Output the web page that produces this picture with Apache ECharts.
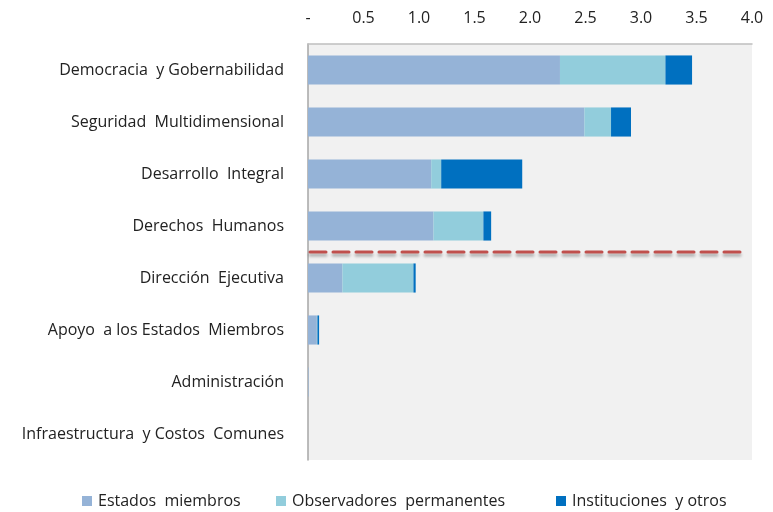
<!DOCTYPE html>
<html>
<head>
<meta charset="utf-8">
<script src="https://cdn.jsdelivr.net/npm/echarts@6/dist/echarts.min.js"></script>
<style>
  html, body { margin: 0; padding: 0; background: #fff; }
  #chart { width: 773px; height: 512px; }
</style>
</head>
<body>
<div id="chart"></div>
<script>
const categories = [
  'Democracia  y Gobernabilidad',
  'Seguridad  Multidimensional',
  'Desarrollo  Integral',
  'Derechos  Humanos',
  'Dirección  Ejecutiva',
  'Apoyo  a los Estados  Miembros',
  'Administración',
  'Infraestructura  y Costos  Comunes'
]
const seriesNames = ['Estados  miembros', 'Observadores  permanentes', 'Instituciones  y otros']
const estados = [2.27, 2.49, 1.11, 1.13, 0.31, 0.08, 0.005, 0]
const observadores = [0.95, 0.24, 0.09, 0.45, 0.64, 0.005, 0, 0]
const instituciones = [0.24, 0.18, 0.73, 0.07, 0.02, 0.015, 0, 0]
const xTicks = ['-', '0.5', '1.0', '1.5', '2.0', '2.5', '3.0', '3.5', '4.0']
// dashed separator sits between these two rows, running out to this x value
const splitAfter = 'Derechos  Humanos'
const splitBefore = 'Dirección  Ejecutiva'
const splitEnd = 3.9

const font = '"Open Sans", Lato, sans-serif'
const chart = echarts.init(document.getElementById('chart'))

function barSeries (name, data, color) {
  return {
    name,
    type: 'bar',
    stack: 'total',
    barWidth: '56%',
    data,
    itemStyle: { color },
    animation: false
  }
}

// one legend per entry so each can sit where the original has it
const legendLeft = [77, 271, 551]
const legends = seriesNames.map((name, i) => ({
  top: 488,
  left: legendLeft[i],
  itemWidth: 10,
  itemHeight: 10,
  itemGap: 6,
  icon: 'rect',
  textStyle: { fontSize: 16, color: '#222', fontFamily: font, padding: [0, 0, 0, 1] },
  data: [name]
}))

chart.setOption({
  textStyle: { fontFamily: font },
  grid: {
    left: 308,
    right: 21,
    top: 44,
    bottom: 52,
    show: true,
    backgroundColor: '#F1F1F1',
    borderWidth: 0
  },
  legend: legends,
  xAxis: {
    type: 'value',
    position: 'top',
    min: 0,
    max: 4,
    interval: 0.5,
    axisLine: { show: true, lineStyle: { color: '#BFBFBF', width: 1.5 } },
    axisTick: { show: false },
    splitLine: { show: false },
    axisLabel: {
      margin: 18,
      fontSize: 16,
      color: '#222',
      formatter: (v) => xTicks[Math.round(v / 0.5)]
    }
  },
  yAxis: {
    type: 'category',
    inverse: true,
    data: categories,
    axisLine: { show: true, lineStyle: { color: '#A6A6A6', width: 1.5 } },
    axisTick: { show: false },
    axisLabel: { margin: 24, fontSize: 16, color: '#222' }
  },
  series: [
    barSeries(seriesNames[0], estados, '#95B3D7'),
    barSeries(seriesNames[1], observadores, '#92CDDC'),
    barSeries(seriesNames[2], instituciones, '#0070C0')
  ]
})

// separator line placed through the axes
const yA = chart.convertToPixel({ yAxisIndex: 0 }, splitAfter)
const yB = chart.convertToPixel({ yAxisIndex: 0 }, splitBefore)
const x0 = chart.convertToPixel({ xAxisIndex: 0 }, 0)
const x1 = chart.convertToPixel({ xAxisIndex: 0 }, splitEnd)
const ySplit = (yA + yB) / 2
chart.setOption({
  graphic: [{
    type: 'line',
    shape: { x1: x0 + 2, y1: ySplit, x2: x1, y2: ySplit },
    style: {
      stroke: '#C0504D',
      lineWidth: 3,
      lineDash: [16, 7],
      lineCap: 'round',
      shadowBlur: 3,
      shadowOffsetY: 3,
      shadowColor: 'rgba(0,0,0,0.3)'
    },
    z: 10
  }]
})
</script>
</body>
</html>
